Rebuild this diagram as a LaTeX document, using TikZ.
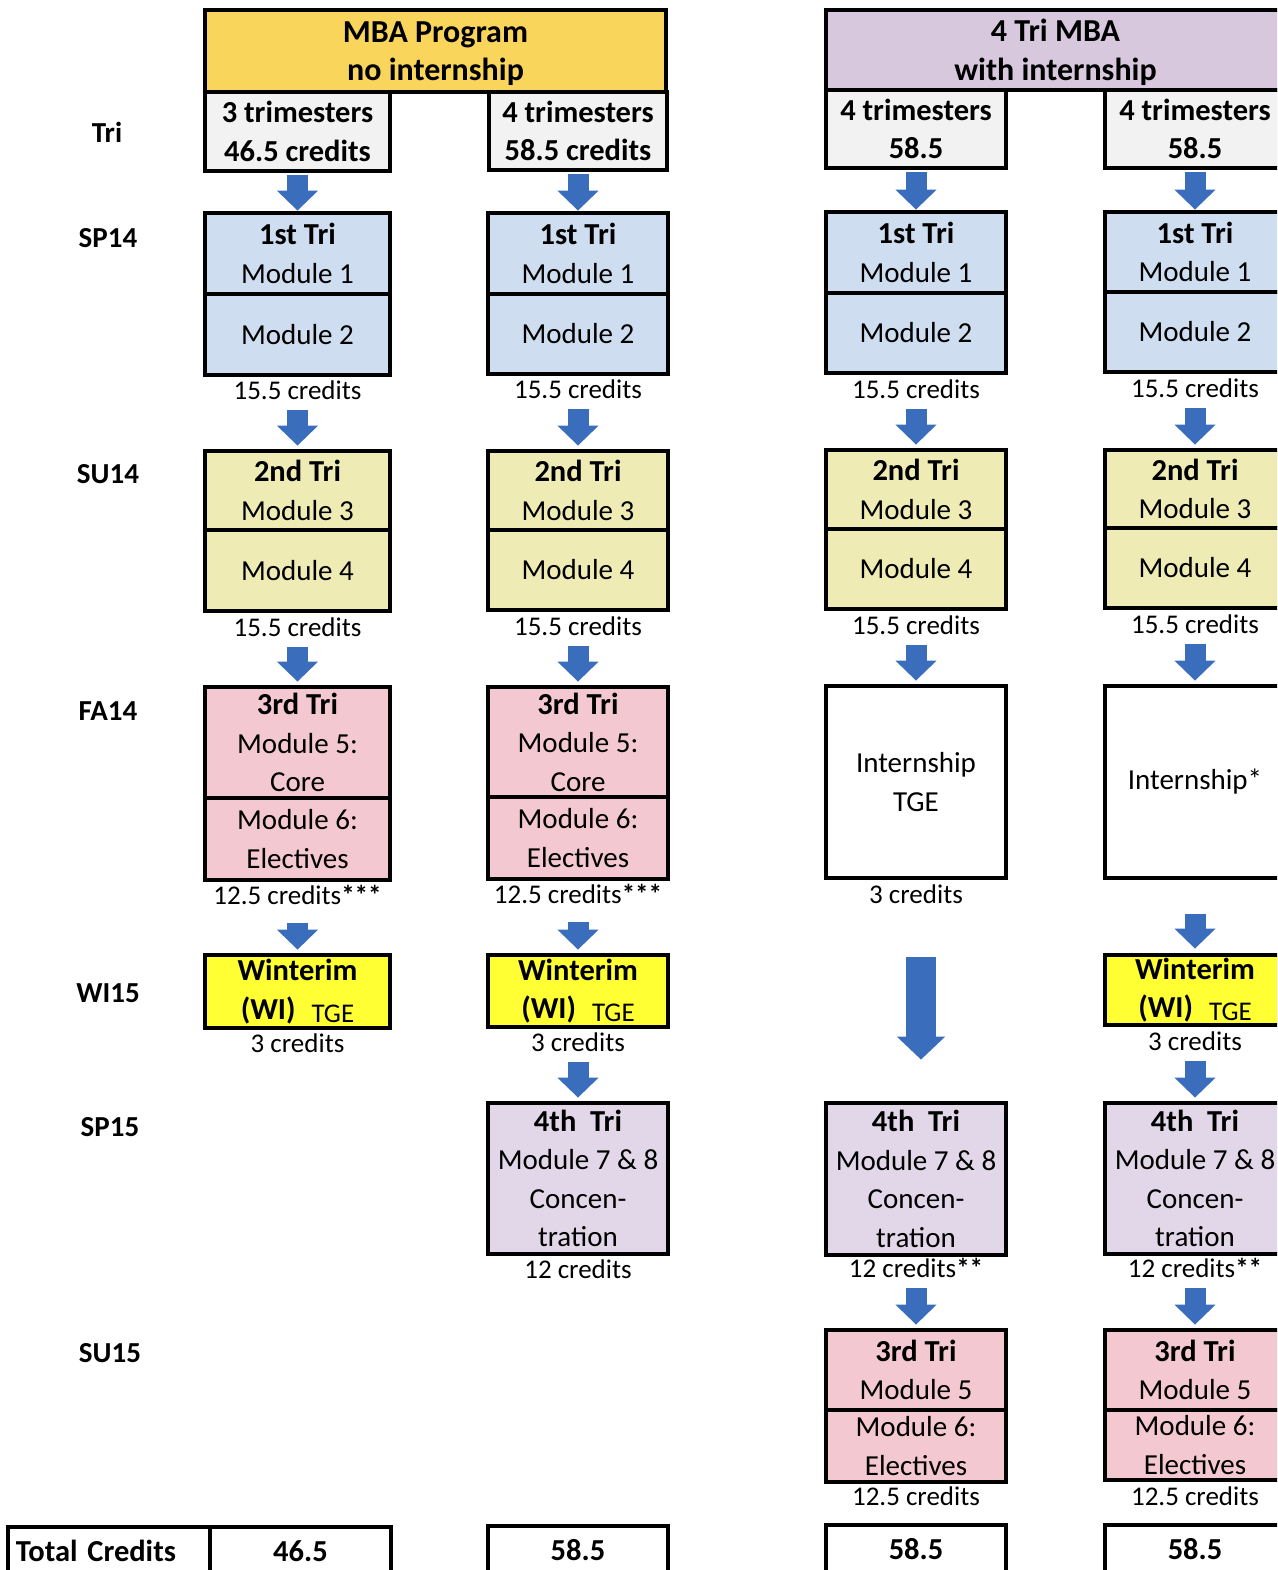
\documentclass[tikz,border=0pt]{standalone}
\usepackage{fontspec}
\setmainfont{Carlito}
\usetikzlibrary{arrows.meta}
\definecolor{gold}{RGB}{249,213,92}
\definecolor{subgray}{RGB}{242,242,242}
\definecolor{lavhead}{RGB}{216,200,222}
\definecolor{blueb}{RGB}{206,222,240}
\definecolor{yelb}{RGB}{238,235,180}
\definecolor{pinkb}{RGB}{243,200,208}
\definecolor{wintb}{RGB}{255,255,51}
\definecolor{lavb}{RGB}{226,215,232}
\definecolor{arrowblue}{RGB}{58,110,188}
\newcommand\bxf{\fontsize{29}{38.5}\selectfont}
\newcommand\tb[1]{{\fontsize{30.5}{38.5}\selectfont\bfseries #1}}
\newcommand\hb[1]{{\fontsize{32}{40}\selectfont\bfseries #1}}
\newcommand\wtge{{\fontsize{27}{30}\selectfont\raisebox{-3pt}{TGE}}}
\begin{document}
\begin{tikzpicture}[x=1pt,y=-1pt,
  box/.style={draw=black, line width=4.8pt, inner sep=0pt, align=center, font=\bxf, text=black},
  cola/.style={box, minimum width=185pt},
  colw/.style={box, minimum width=180pt},
  lab/.style={inner sep=0pt, font=\fontsize{27}{30}\selectfont, text height=19pt, text depth=0pt},
  rowlab/.style={inner sep=0pt, font=\bxf\bfseries},
  flow/.style={draw=arrowblue, line width=21pt, -{Triangle[width=40pt,length=20pt]}},
  bigflow/.style={draw=arrowblue, line width=30pt, -{Triangle[width=47pt,length=23pt]}}
]
\useasboundingbox (0,0) rectangle (1277,1570);
\clip (0,0) rectangle (1277,1570);
\fill[white] (0,0) rectangle (1277,1570);

% row labels
\node[rowlab] (rTri)  at (107,132)  {Tri};
\node[rowlab] (rSP14) at (108,238)  {SP14};
\node[rowlab] (rSU14) at (108,474)  {SU14};
\node[rowlab] (rFA14) at (108,711)  {FA14};
\node[rowlab] (rWI15) at (108,993)  {WI15};
\node[rowlab] (rSP15) at (110,1127) {SP15};
\node[rowlab] (rSU15) at (110,1353) {SU15};

% headers
\node[box, fill=gold, minimum width=461pt, minimum height=82pt, text depth=0pt] (hdr1) at (435.5,51) {\hb{MBA Program}\\\hb{no internship}};
\node[box, fill=lavhead, minimum width=459pt, minimum height=80pt, text depth=0pt] (hdr2) at (1055.5,50) {\hb{4 Tri MBA}\\\hb{with internship}};

\node[cola, fill=subgray, minimum height=79pt] (subA) at (297.5,131.5) {\tb{3 trimesters}\\\tb{46.5 credits}};
\node[colw, fill=subgray, minimum width=178pt, minimum height=78pt] (subB) at (578,131) {\tb{4 trimesters}\\\tb{58.5 credits}};
\node[colw, fill=subgray, minimum height=78pt] (subC) at (916,129) {\tb{4 trimesters}\\\tb{58.5}};
\node[colw, fill=subgray, minimum height=78pt] (subD) at (1195,129) {\tb{4 trimesters}\\\tb{58.5}};

% ---------- column A ----------
\node[cola, fill=blueb, minimum height=81pt] (m1A) at (297.5,253.5) {\tb{1st Tri}\\Module 1};
\node[cola, fill=blueb, minimum height=81pt] (m2A) at (297.5,334.5) {Module 2};
\node[lab] (c1A) at (297.5,390) {15.5 credits};
\node[cola, fill=yelb, minimum height=79pt] (m3A) at (297.5,490.5) {\tb{2nd Tri}\\Module 3};
\node[cola, fill=yelb, minimum height=81pt] (m4A) at (297.5,570.5) {Module 4};
\node[lab] (c2A) at (297.5,627) {15.5 credits};
\node[cola, fill=pinkb, minimum height=111pt] (m5A) at (297.5,742.5) {\tb{3rd Tri}\\Module 5:\\Core};
\node[cola, fill=pinkb, minimum height=82pt] (m6A) at (297.5,839) {Module 6:\\Electives};
\node[lab] (c3A) at (297.5,895) {12.5 credits\textbf{***}};
\node[cola, fill=wintb, minimum height=73pt] (wiA) at (297.5,991.5) {\tb{Winterim}\\\tb{(WI)}\hspace{16pt}\wtge};
\node[lab] (c4A) at (297.5,1043) {3 credits};

% ---------- column B ----------
\node[colw, fill=blueb, minimum height=81pt] (m1B) at (578,253.5) {\tb{1st Tri}\\Module 1};
\node[colw, fill=blueb, minimum height=80pt] (m2B) at (578,334) {Module 2};
\node[lab] (c1B) at (578,389) {15.5 credits};
\node[colw, fill=yelb, minimum height=79pt] (m3B) at (578,490.5) {\tb{2nd Tri}\\Module 3};
\node[colw, fill=yelb, minimum height=80pt] (m4B) at (578,570) {Module 4};
\node[lab] (c2B) at (578,626) {15.5 credits};
\node[colw, fill=pinkb, minimum height=110pt] (m5B) at (578,742) {\tb{3rd Tri}\\Module 5:\\Core};
\node[colw, fill=pinkb, minimum height=82pt] (m6B) at (578,838) {Module 6:\\Electives};
\node[lab] (c3B) at (578,894) {12.5 credits\textbf{***}};
\node[colw, fill=wintb, minimum height=72pt] (wiB) at (578,991) {\tb{Winterim}\\\tb{(WI)}\hspace{16pt}\wtge};
\node[lab] (c4B) at (578,1042) {3 credits};
\node[colw, fill=lavb, minimum height=151pt] (m7B) at (578,1178.5) {\tb{4th\ \ Tri}\\Module 7 \& 8\\Concen-\\tration};
\node[lab] (c5B) at (578,1269) {12 credits};

% ---------- column C ----------
\node[colw, fill=blueb, minimum height=81pt] (m1C) at (916,252.5) {\tb{1st Tri}\\Module 1};
\node[colw, fill=blueb, minimum height=80pt] (m2C) at (916,333) {Module 2};
\node[lab] (c1C) at (916,389) {15.5 credits};
\node[colw, fill=yelb, minimum height=79pt] (m3C) at (916,489.5) {\tb{2nd Tri}\\Module 3};
\node[colw, fill=yelb, minimum height=80pt] (m4C) at (916,569) {Module 4};
\node[lab] (c2C) at (916,625) {15.5 credits};
\node[colw, fill=white, minimum height=192pt] (intC) at (916,782) {Internship\\TGE};
\node[lab] (c3C) at (916,894) {3 credits};
\node[colw, fill=lavb, minimum height=152pt] (m7C) at (916,1179) {\tb{4th\ \ Tri}\\Module 7 \& 8\\Concen-\\tration};
\node[lab] (c5C) at (916,1268) {12 credits\textbf{**}};
\node[colw, fill=pinkb, minimum height=80pt] (m5C) at (916,1370) {\tb{3rd Tri}\\Module 5};
\node[colw, fill=pinkb, minimum height=72pt] (m6C) at (916,1446) {Module 6:\\Electives};
\node[lab] (c6C) at (916,1496) {12.5 credits};

% ---------- column D ----------
\node[colw, fill=blueb, minimum height=80pt] (m1D) at (1195,252) {\tb{1st Tri}\\Module 1};
\node[colw, fill=blueb, minimum height=80pt] (m2D) at (1195,332) {Module 2};
\node[lab] (c1D) at (1195,388) {15.5 credits};
\node[colw, fill=yelb, minimum height=78pt] (m3D) at (1195,489) {\tb{2nd Tri}\\Module 3};
\node[colw, fill=yelb, minimum height=80pt] (m4D) at (1195,568) {Module 4};
\node[lab] (c2D) at (1195,624) {15.5 credits};
\node[colw, fill=white, minimum height=192pt] (intD) at (1195,782) {Internship*};
\node[colw, fill=wintb, minimum height=70pt] (wiD) at (1195,990) {\tb{Winterim}\\\tb{(WI)}\hspace{16pt}\wtge};
\node[lab] (c4D) at (1195,1041) {3 credits};
\node[colw, fill=lavb, minimum height=151pt] (m7D) at (1195,1178.5) {\tb{4th\ \ Tri}\\Module 7 \& 8\\Concen-\\tration};
\node[lab] (c5D) at (1195,1268) {12 credits\textbf{**}};
\node[colw, fill=pinkb, minimum height=80pt] (m5D) at (1195,1370) {\tb{3rd Tri}\\Module 5};
\node[colw, fill=pinkb, minimum height=70pt] (m6D) at (1195,1445) {Module 6:\\Electives};
\node[lab] (c6D) at (1195,1496) {12.5 credits};

% ---------- totals ----------
\node[box, fill=white, minimum width=202pt, minimum height=48pt, text width=186pt, align=left] (totL) at (109,1551) {\tb{Total Credits}};
\node[box, fill=white, minimum width=181pt, minimum height=48pt] (totA) at (300.5,1551) {\tb{46.5}};
\node[colw, fill=white, minimum height=48pt] (totB) at (578,1550) {\tb{58.5}};
\node[colw, fill=white, minimum height=48pt] (totC) at (916,1549) {\tb{58.5}};
\node[colw, fill=white, minimum height=48pt] (totD) at (1195,1549) {\tb{58.5}};

% ---------- arrows ----------
\foreach \c in {A,B,C,D}{
  \draw[flow, shorten <=2pt] (sub\c.south) -- (m1\c.north);
  \draw[flow, shorten <=10pt, shorten >=3pt] (c1\c.south) -- (m3\c.north);
}
\draw[flow, shorten <=10pt, shorten >=3pt] (c2A.south) -- (m5A.north);
\draw[flow, shorten <=10pt, shorten >=3pt] (c2B.south) -- (m5B.north);
\draw[flow, shorten <=10pt, shorten >=3pt] (c2C.south) -- (intC.north);
\draw[flow, shorten <=10pt, shorten >=3pt] (c2D.south) -- (intD.north);
\draw[flow, shorten <=18pt, shorten >=3pt] (c3A.south) -- (wiA.north);
\draw[flow, shorten <=18pt, shorten >=3pt] (c3B.south) -- (wiB.north);
\draw[flow, shorten <=34pt, shorten >=4pt] (intD.south) -- (wiD.north);
\draw[flow, shorten <=10pt, shorten >=3pt] (c4B.south) -- (m7B.north);
\draw[flow, shorten <=10pt, shorten >=3pt] (c4D.south) -- (m7D.north);
\draw[bigflow, shorten <=53pt, shorten >=41pt] ([xshift=5pt]c3C.south) -- ([xshift=5pt]m7C.north);
\draw[flow, shorten <=10pt, shorten >=3pt] (c5C.south) -- (m5C.north);
\draw[flow, shorten <=10pt, shorten >=3pt] (c5D.south) -- (m5D.north);
\end{tikzpicture}
\end{document}
